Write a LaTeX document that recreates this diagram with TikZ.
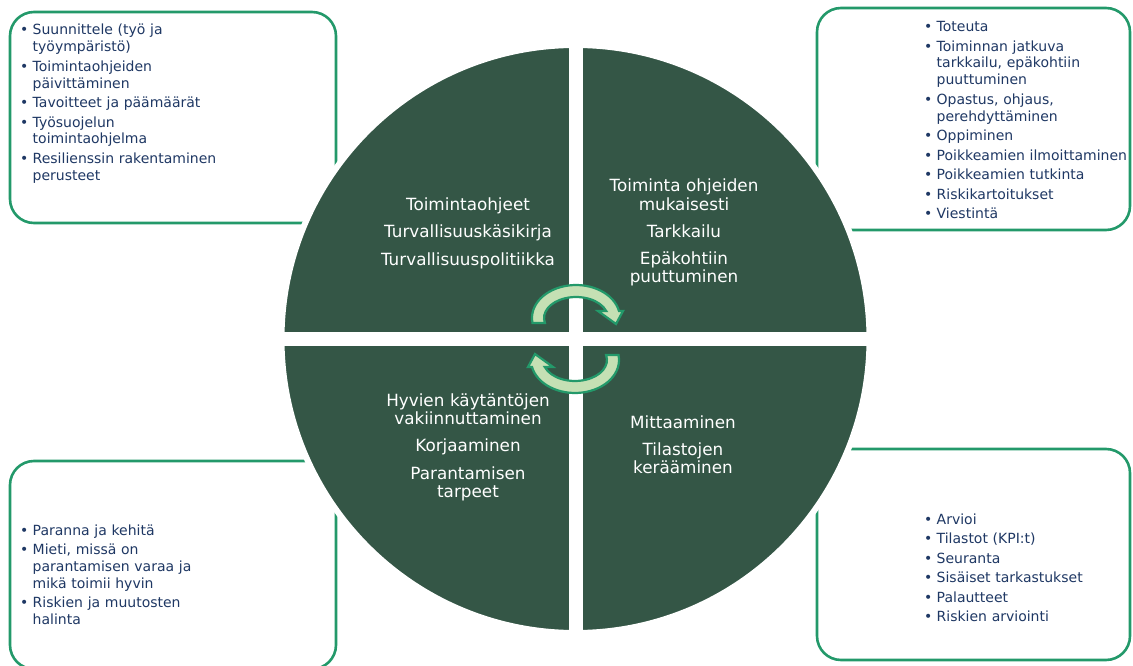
\documentclass[tikz,border=0pt]{standalone}
\usepackage{fontspec}
\setmainfont{DejaVu Sans}

\definecolor{framegreen}{HTML}{23996A}
\definecolor{discgreen}{HTML}{345646}
\definecolor{arrowfill}{HTML}{C5E0B4}
\definecolor{navy}{HTML}{1F3864}

% one bullet point with a hanging indent; lines inside it are broken with \newline
\newcommand{\bitem}[1]{\setlength{\parskip}{2.7pt}\hangindent=12.5pt\hangafter=1\noindent\makebox[12.5pt][l]{\textbullet}#1\par}

% circular arrow band, drawn around the origin (y pointing up)
\newcommand{\cyclearrow}{%
  (-43.5,-5) arc[start angle=188.7, end angle=12.2, x radius=44, y radius=33]
  -- (47,7) -- (40,-6) -- (22,7) -- (30.2,7)
  arc[start angle=19.5, end angle=193.8, x radius=32, y radius=21] -- cycle}

\begin{document}
\begin{tikzpicture}[x=1pt,y=-1pt,
  infobox/.style={draw=framegreen, line width=2.6pt, rounded corners=24pt, fill=white},
  quadrant/.style={fill=discgreen, draw=white, line width=6pt},
  cyc/.style={fill=arrowfill, draw=framegreen, line width=2.2pt, line join=miter},
  listtext/.style={text=navy, font=\fontsize{14}{16.8}\selectfont, text width=215pt,
    align=left, inner sep=0pt, anchor=base west},
  quadtext/.style={text=white, font=\fontsize{16.8}{18}\selectfont, text width=220pt,
    align=center, inner sep=0pt, anchor=base}]
\useasboundingbox (0,0) rectangle (1133,666);

% four rounded boxes behind the disc
\draw[infobox] (10,12) rectangle (336,223);
\draw[infobox] (817,8) rectangle (1130,230);
\draw[infobox] (10,461) rectangle (336,669);
\draw[infobox] (817,449) rectangle (1130,660);

% the disc, split into quadrants by a white cross
\filldraw[quadrant] (575.5,339) circle[radius=294];
\fill[white] (568.5,30) rectangle (582.5,650);
\fill[white] (270,332) rectangle (881,346);

% the two circular arrows in the middle
\begin{scope}[shift={(576,318)}, y=1pt]
  \filldraw[cyc] \cyclearrow;
\end{scope}
\begin{scope}[shift={(575,360)}, y=1pt, rotate=180]
  \filldraw[cyc] \cyclearrow;
\end{scope}

% texts in the quadrants
\node[quadtext] (plan) at (468,210) {Toimintaohjeet\\[9.5pt]Turvallisuuskäsikirja\\[9.5pt]Turvallisuuspolitiikka};
\node[quadtext] (do) at (684,192) {Toiminta ohjeiden\\mukaisesti\\[9.5pt]Tarkkailu\\[9.5pt]Epäkohtiin\\puuttuminen};
\node[quadtext] (act) at (468,406) {Hyvien käytäntöjen\\vakiinnuttaminen\\[9.5pt]Korjaaminen\\[9.5pt]Parantamisen\\tarpeet};
\node[quadtext] (check) at (683,428) {Mittaaminen\\[9.5pt]Tilastojen\\kerääminen};

% bullet lists in the boxes
\node[listtext] (planlist) at (20,35) {%
  \bitem{Suunnittele (työ ja\newline työympäristö)}%
  \bitem{Toimintaohjeiden\newline päivittäminen}%
  \bitem{Tavoitteet ja päämäärät}%
  \bitem{Työsuojelun\newline toimintaohjelma}%
  \bitem{Resilienssin rakentaminen\newline perusteet}};
\node[listtext] (dolist) at (924,31.7) {%
  \bitem{Toteuta}%
  \bitem{Toiminnan jatkuva\newline tarkkailu, epäkohtiin\newline puuttuminen}%
  \bitem{Opastus, ohjaus,\newline perehdyttäminen}%
  \bitem{Oppiminen}%
  \bitem{Poikkeamien ilmoittaminen}%
  \bitem{Poikkeamien tutkinta}%
  \bitem{Riskikartoitukset}%
  \bitem{Viestintä}};
\node[listtext] (actlist) at (20,535) {%
  \bitem{Paranna ja kehitä}%
  \bitem{Mieti, missä on\newline parantamisen varaa ja\newline mikä toimii hyvin}%
  \bitem{Riskien ja muutosten\newline halinta}};
\node[listtext] (checklist) at (924,524) {%
  \bitem{Arvioi}%
  \bitem{Tilastot (KPI:t)}%
  \bitem{Seuranta}%
  \bitem{Sisäiset tarkastukset}%
  \bitem{Palautteet}%
  \bitem{Riskien arviointi}};
\end{tikzpicture}
\end{document}
